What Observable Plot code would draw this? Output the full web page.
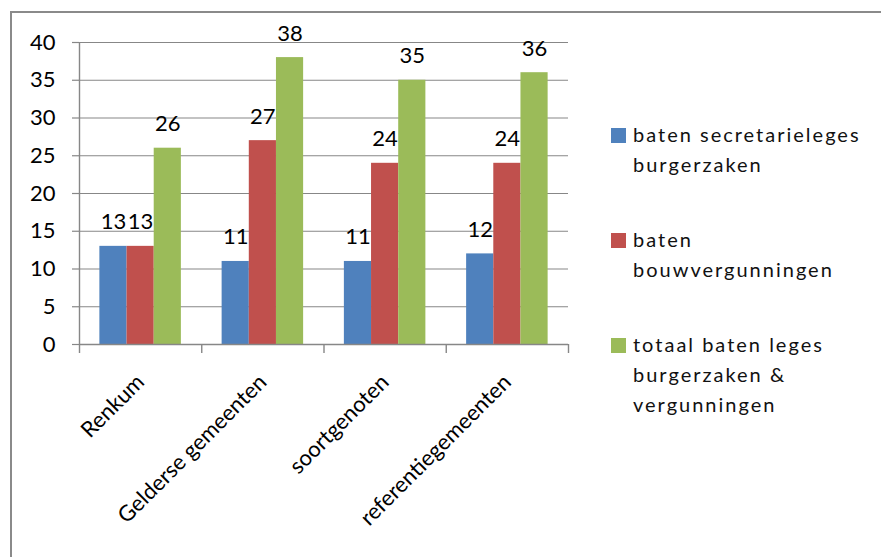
<!DOCTYPE html>
<html>
<head>
<meta charset="utf-8">
<script src="https://cdn.jsdelivr.net/npm/d3@7"></script>
<script src="https://cdn.jsdelivr.net/npm/@observablehq/plot@0.6"></script>
<style>
  html, body { margin: 0; padding: 0; background: #fff; }
  #wrap { position: relative; width: 881px; height: 557px; overflow: hidden; font-family: Lato, sans-serif; }
  #border { position: absolute; left: 10px; top: 11px; width: 1000px; height: 700px;
            border-left: 2px solid #8a8a8a; border-top: 2px solid #8a8a8a; pointer-events: none; }
  #legend { position: absolute; left: 611px; top: 119px; display: flex; flex-direction: column; gap: 45px; }
  .item { position: relative; padding-left: 22px; width: 240px; font-size: 20px; line-height: 30px;
          letter-spacing: 2px; color: #111; }
  .sw { position: absolute; left: 0; top: 9px; width: 15px; height: 15px; }
  #chart { position: absolute; left: 0; top: 0; }
</style>
</head>
<body>
<div id="wrap">
  <div id="chart"></div>
  <div id="border"></div>
  <div id="legend"></div>
</div>
<script>
const categories = ["Renkum", "Gelderse gemeenten", "soortgenoten", "referentiegemeenten"];
const series = [
  "baten secretarieleges burgerzaken",
  "baten bouwvergunningen",
  "totaal baten leges burgerzaken & vergunningen"
];
const secretarieleges = [13, 11, 11, 12];
const bouwvergunningen = [13, 27, 24, 24];
const totaal = [26, 38, 35, 36];
const yTicks = [0, 5, 10, 15, 20, 25, 30, 35, 40];
const colors = ["#4F81BD", "#C0504D", "#9BBB59"];

// Excel clustered column layout: gap width 150% of a bar
const gap = 1.5;
const valuesBySeries = [secretarieleges, bouwvergunningen, totaal];
const rows = [];
categories.forEach((c, i) => {
  series.forEach((s, j) => {
    const x1 = i + (gap / 2 + j) / (series.length + gap);
    const x2 = i + (gap / 2 + j + 1) / (series.length + gap);
    rows.push({category: c, series: s, value: valuesBySeries[j][i], x1, x2, xm: (x1 + x2) / 2});
  });
});

const grey = "#878787";
const chart = Plot.plot({
  width: 881,
  height: 557,
  marginLeft: 79,
  marginRight: 313,
  marginTop: 42,
  marginBottom: 213,
  x: {domain: [0, categories.length]},
  y: {domain: [0, 40]},
  color: {domain: series, range: colors},
  style: {fontFamily: "Lato, sans-serif", background: "transparent"},
  marks: [
    Plot.gridY(yTicks, {stroke: grey, strokeOpacity: 1, strokeWidth: 1.2}),
    Plot.axisY({ticks: yTicks, tickSize: 7, tickPadding: 17, fontSize: 22, stroke: grey, strokeWidth: 1.2, label: null, fill: "#000"}),
    Plot.rectY(rows, {x1: "x1", x2: "x2", y: "value", fill: "series"}),
    Plot.ruleY([0], {stroke: grey, strokeWidth: 1.4}),
    Plot.ruleX([0], {stroke: grey, strokeWidth: 1.4}),
    Plot.axisX({ticks: d3.range(0, categories.length + 1), tickSize: 9, tickFormat: () => "", stroke: grey, strokeWidth: 1.4, label: null}),
    Plot.axisX({ticks: categories.map((c, i) => i + 0.5), tickFormat: d => categories[Math.floor(d)],
      tickRotate: -45, tickSize: 0, tickPadding: 34, fontSize: 22, label: null, fill: "#000"}),
    Plot.text(rows, {x: "xm", y: "value", text: d => String(d.value), dy: -17, lineAnchor: "bottom", fontSize: 22, fill: "#000"})
  ]
});
document.getElementById("chart").appendChild(chart);

const legend = document.getElementById("legend");
series.forEach((s, j) => {
  const item = document.createElement("div");
  item.className = "item";
  const sw = document.createElement("div");
  sw.className = "sw";
  sw.style.background = chart.scale("color").apply(s);
  item.appendChild(sw);
  item.appendChild(document.createTextNode(s));
  legend.appendChild(item);
});
</script>
</body>
</html>
